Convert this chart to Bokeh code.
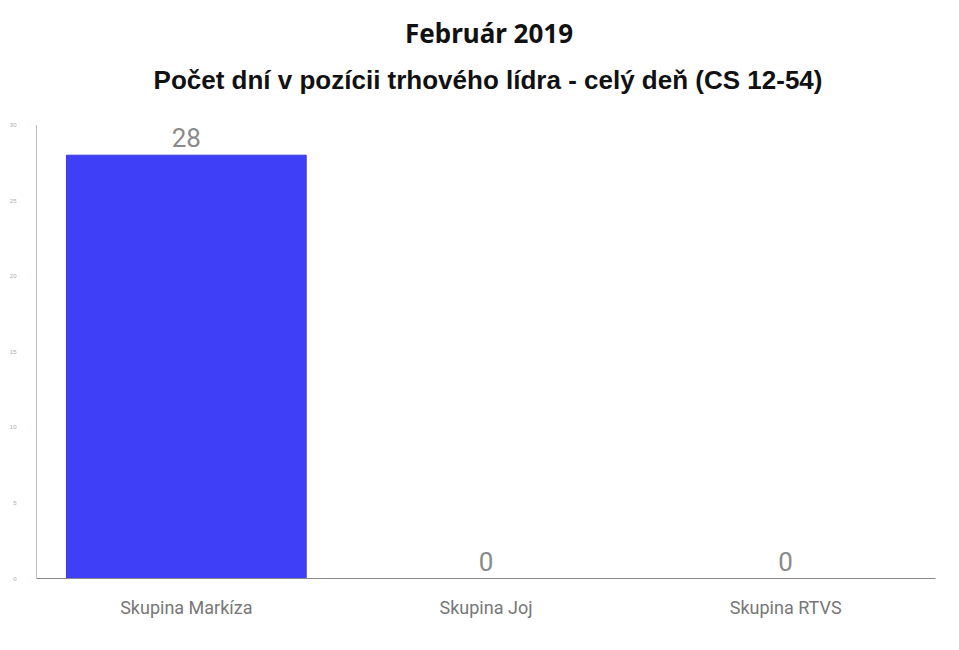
from bokeh.plotting import figure
from bokeh.models import ColumnDataSource, LabelSet, Label, FixedTicker, Range1d
from bokeh.core.properties import value
from bokeh.embed import file_html
from bokeh.resources import INLINE

categories = ["Skupina Markíza", "Skupina Joj", "Skupina RTVS"]
values = [28, 0, 0]
value_labels = ["28", "0", "0"]
y_ticks = [0, 5, 10, 15, 20, 25, 30]
y_max = 30
title_text = "Február 2019"
subtitle_text = "Počet dní v pozícii trhového lídra - celý deň (CS 12-54)"

src = ColumnDataSource(dict(cat=categories, val=values, lab=value_labels))

# the frame extends above the value axis so that the titles can sit inside it
p = figure(x_range=categories, y_range=Range1d(0, 37.9), width=943, height=634,
           output_backend="svg", toolbar_location=None,
           min_border_left=36, min_border_right=8, min_border_bottom=56, min_border_top=5)

p.vbar(x="cat", top="val", width=0.8, source=src, fill_color="#3f3ff8",
       line_color="#3a3ad8", line_width=1)

# value axis line only from 0 to 30
p.segment(x0=[0], y0=[0], x1=[0], y1=[y_max], line_color="#808080", line_width=1)

labels = LabelSet(x="cat", y="val", text="lab", source=src, text_align="center",
                  text_baseline="bottom", y_offset=8, text_font_size="26px",
                  text_color="#8a8a8a", text_font=value("Roboto"))
p.add_layout(labels)

mid = len(categories) / 2
p.add_layout(Label(x=mid, y=y_max, y_offset=45, x_offset=2, text=subtitle_text,
                   text_align="center", text_baseline="middle", text_font_size="26px",
                   text_font_style="bold", text_font="Liberation Sans", text_color="#111111"))
p.add_layout(Label(x=mid, y=y_max, y_offset=92, x_offset=3, text=title_text,
                   text_align="center", text_baseline="middle", text_font_size="26px",
                   text_font_style="bold", text_font="Noto Sans", text_color="#111111"))

p.xgrid.grid_line_color = None
p.ygrid.grid_line_color = None
p.outline_line_color = None

p.yaxis.ticker = FixedTicker(ticks=y_ticks)
p.yaxis.major_label_text_font_size = "6px"
p.yaxis.major_label_text_color = "#aaaaaa"
p.yaxis.major_tick_line_color = None
p.yaxis.minor_tick_line_color = None
p.yaxis.axis_line_color = None
p.yaxis.major_label_standoff = 14

p.xaxis.major_label_text_font_size = "18px"
p.xaxis.major_label_text_color = "#777777"
p.xaxis.major_label_text_font = "Roboto"
p.xaxis.major_tick_line_color = None
p.xaxis.minor_tick_line_color = None
p.xaxis.axis_line_color = "#888888"
p.xaxis.major_label_standoff = 12

open("out.html", "w").write(file_html(p, INLINE))
